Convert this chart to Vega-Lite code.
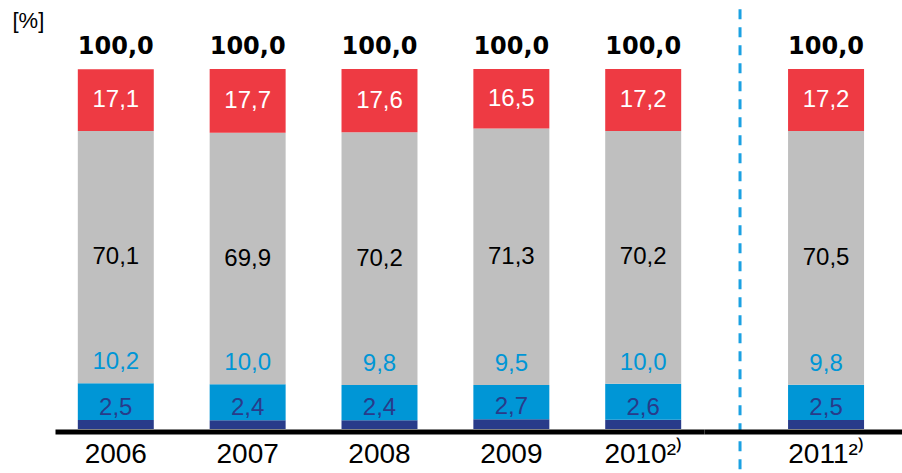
{
  "$schema": "https://vega.github.io/schema/vega-lite/v6.json",
  "padding": {"left": 12, "top": 7, "right": 0, "bottom": 0},
  "autosize": {"type": "pad"},
  "spacing": 0,
  "align": "each",
  "bounds": "flush",
  "config": {
    "view": {"stroke": null},
    "locale": {"number": {"decimal": ",", "thousands": ".", "grouping": [3], "currency": ["", " €"]}},
    "axis": {"grid": false}
  },
  "datasets": {
    "segments": [
      {"year": "2006", "segment": "s1", "value": 2.5},
      {"year": "2006", "segment": "s2", "value": 10.2},
      {"year": "2006", "segment": "s3", "value": 70.1},
      {"year": "2006", "segment": "s4", "value": 17.1},
      {"year": "2007", "segment": "s1", "value": 2.4},
      {"year": "2007", "segment": "s2", "value": 10.0},
      {"year": "2007", "segment": "s3", "value": 69.9},
      {"year": "2007", "segment": "s4", "value": 17.7},
      {"year": "2008", "segment": "s1", "value": 2.4},
      {"year": "2008", "segment": "s2", "value": 9.8},
      {"year": "2008", "segment": "s3", "value": 70.2},
      {"year": "2008", "segment": "s4", "value": 17.6},
      {"year": "2009", "segment": "s1", "value": 2.7},
      {"year": "2009", "segment": "s2", "value": 9.5},
      {"year": "2009", "segment": "s3", "value": 71.3},
      {"year": "2009", "segment": "s4", "value": 16.5},
      {"year": "2010", "segment": "s1", "value": 2.6},
      {"year": "2010", "segment": "s2", "value": 10.0},
      {"year": "2010", "segment": "s3", "value": 70.2},
      {"year": "2010", "segment": "s4", "value": 17.2},
      {"year": "2011", "segment": "s1", "value": 2.5},
      {"year": "2011", "segment": "s2", "value": 9.8},
      {"year": "2011", "segment": "s3", "value": 70.5},
      {"year": "2011", "segment": "s4", "value": 17.2}
    ],
    "totals": [
      {"year": "2006", "total": 100.0},
      {"year": "2007", "total": 100.0},
      {"year": "2008", "total": 100.0},
      {"year": "2009", "total": 100.0},
      {"year": "2010", "total": 100.0},
      {"year": "2011", "total": 100.0}
    ]
  },
  "hconcat": [
    {
      "width": 649,
      "height": 360,
      "layer": [
        {
          "data": {"name": "segments"},
          "transform": [{"filter": "datum.year != '2011'"}],
          "mark": {"type": "bar"},
          "encoding": {
            "x": {"field": "year", "type": "nominal", "scale": {"paddingInner": 0.4238, "paddingOuter": 0.173},
              "axis": {"title": null, "domainColor": "black", "domainWidth": 5, "ticks": false, "labelFont": "Liberation Sans", "labelFontSize": 28, "labelColor": "black", "labelPadding": 9, "offset": 2.5, "labelAngle": 0, "zindex": 1,
                "labelExpr": "datum.value == '2010' || datum.value == '2011' ? datum.value + '²⁾' : datum.value"}},
            "y": {"field": "value", "type": "quantitative", "stack": "zero", "scale": {"domain": [0, 100], "nice": false},
              "axis": {"title": "[%]", "domain": false, "ticks": false, "labels": false, "titleAngle": 0, "titleX": -43, "titleY": -59, "titleAlign": "left", "titleBaseline": "top", "titleFont": "Liberation Sans", "titleFontSize": 22, "titleFontWeight": "normal", "titleColor": "black"}},
            "color": {"field": "segment", "type": "nominal", "scale": {"domain": ["s1", "s2", "s3", "s4"], "range": ["#283B8A", "#0096D6", "#BFBFBF", "#EE3A43"]}, "legend": null},
            "order": {"field": "segment", "sort": "ascending"}
          }
        },
        {
          "data": {"name": "segments"},
          "transform": [{"filter": "datum.year != '2011'"}],
          "mark": {"type": "text", "font": "Liberation Sans", "fontSize": 24, "baseline": "middle"},
          "encoding": {
            "x": {"field": "year", "type": "nominal"},
            "y": {"field": "value", "type": "quantitative", "stack": "zero", "bandPosition": 0.5},
            "detail": {"field": "segment"},
            "order": {"field": "segment", "sort": "ascending"},
            "text": {"condition": {"test": "datum.segment == 's3' || datum.segment == 's4'", "field": "value", "type": "quantitative", "format": ".1f"}, "value": ""},
            "color": {"condition": {"test": "datum.segment == 's4'", "value": "white"}, "value": "black"}
          }
        },
        {
          "data": {"name": "segments"},
          "transform": [{"filter": "datum.year != '2011'"}],
          "mark": {"type": "text", "font": "Liberation Sans", "fontSize": 24, "baseline": "alphabetic", "dy": -14},
          "encoding": {
            "x": {"field": "year", "type": "nominal"},
            "y": {"field": "value", "type": "quantitative", "stack": "zero"},
            "detail": {"field": "segment"},
            "order": {"field": "segment", "sort": "ascending"},
            "text": {"condition": {"test": "datum.segment == 's2'", "field": "value", "type": "quantitative", "format": ".1f"}, "value": ""},
            "color": {"value": "#0096D6"}
          }
        },
        {
          "data": {"name": "segments"},
          "transform": [{"filter": "datum.year != '2011'"}],
          "mark": {"type": "text", "font": "Liberation Sans", "fontSize": 24, "baseline": "alphabetic", "dy": -5},
          "encoding": {
            "x": {"field": "year", "type": "nominal"},
            "y": {"field": "value", "type": "quantitative", "stack": "zero"},
            "detail": {"field": "segment"},
            "order": {"field": "segment", "sort": "ascending"},
            "text": {"condition": {"test": "datum.segment == 's1'", "field": "value", "type": "quantitative", "format": ".1f"}, "value": ""},
            "color": {"value": "#283B8A"}
          }
        },
        {
          "data": {"name": "totals"},
          "transform": [{"filter": "datum.year != '2011'"}],
          "mark": {"type": "text", "font": "DejaVu Sans", "fontWeight": "bold", "fontSize": 24, "baseline": "alphabetic", "dy": -15},
          "encoding": {
            "x": {"field": "year", "type": "nominal"},
            "y": {"field": "total", "type": "quantitative"},
            "text": {"field": "total", "type": "quantitative", "format": ".1f"},
            "color": {"value": "black"}
          }
        }
      ]
    },
    {
      "width": 198,
      "height": 360,
      "layer": [
        {
          "data": {"name": "segments"},
          "transform": [{"filter": "datum.year == '2011'"}],
          "mark": {"type": "bar"},
          "encoding": {
            "x": {"field": "year", "type": "nominal", "scale": {"paddingInner": 0, "paddingOuter": 0.8026, "align": 0.689},
              "axis": {"title": null, "domainColor": "black", "domainWidth": 5, "ticks": false, "labelFont": "Liberation Sans", "labelFontSize": 28, "labelColor": "black", "labelPadding": 9, "offset": 2.5, "labelAngle": 0, "zindex": 1,
                "labelExpr": "datum.value == '2010' || datum.value == '2011' ? datum.value + '²⁾' : datum.value"}},
            "y": {"field": "value", "type": "quantitative", "stack": "zero", "scale": {"domain": [0, 100], "nice": false}, "axis": null},
            "color": {"field": "segment", "type": "nominal", "scale": {"domain": ["s1", "s2", "s3", "s4"], "range": ["#283B8A", "#0096D6", "#BFBFBF", "#EE3A43"]}, "legend": null},
            "order": {"field": "segment", "sort": "ascending"}
          }
        },
        {
          "data": {"name": "segments"},
          "transform": [{"filter": "datum.year == '2011'"}],
          "mark": {"type": "text", "font": "Liberation Sans", "fontSize": 24, "baseline": "middle"},
          "encoding": {
            "x": {"field": "year", "type": "nominal"},
            "y": {"field": "value", "type": "quantitative", "stack": "zero", "bandPosition": 0.5, "axis": null},
            "detail": {"field": "segment"},
            "order": {"field": "segment", "sort": "ascending"},
            "text": {"condition": {"test": "datum.segment == 's3' || datum.segment == 's4'", "field": "value", "type": "quantitative", "format": ".1f"}, "value": ""},
            "color": {"condition": {"test": "datum.segment == 's4'", "value": "white"}, "value": "black"}
          }
        },
        {
          "data": {"name": "segments"},
          "transform": [{"filter": "datum.year == '2011'"}],
          "mark": {"type": "text", "font": "Liberation Sans", "fontSize": 24, "baseline": "alphabetic", "dy": -14},
          "encoding": {
            "x": {"field": "year", "type": "nominal"},
            "y": {"field": "value", "type": "quantitative", "stack": "zero", "axis": null},
            "detail": {"field": "segment"},
            "order": {"field": "segment", "sort": "ascending"},
            "text": {"condition": {"test": "datum.segment == 's2'", "field": "value", "type": "quantitative", "format": ".1f"}, "value": ""},
            "color": {"value": "#0096D6"}
          }
        },
        {
          "data": {"name": "segments"},
          "transform": [{"filter": "datum.year == '2011'"}],
          "mark": {"type": "text", "font": "Liberation Sans", "fontSize": 24, "baseline": "alphabetic", "dy": -5},
          "encoding": {
            "x": {"field": "year", "type": "nominal"},
            "y": {"field": "value", "type": "quantitative", "stack": "zero", "axis": null},
            "detail": {"field": "segment"},
            "order": {"field": "segment", "sort": "ascending"},
            "text": {"condition": {"test": "datum.segment == 's1'", "field": "value", "type": "quantitative", "format": ".1f"}, "value": ""},
            "color": {"value": "#283B8A"}
          }
        },
        {
          "data": {"name": "totals"},
          "transform": [{"filter": "datum.year == '2011'"}],
          "mark": {"type": "text", "font": "DejaVu Sans", "fontWeight": "bold", "fontSize": 24, "baseline": "alphabetic", "dy": -15},
          "encoding": {
            "x": {"field": "year", "type": "nominal"},
            "y": {"field": "total", "type": "quantitative", "axis": null},
            "text": {"field": "total", "type": "quantitative", "format": ".1f"},
            "color": {"value": "black"}
          }
        },
        {
          "data": {"name": "totals"},
          "transform": [{"filter": "datum.year == '2011'"}],
          "mark": {"type": "rule", "strokeDash": [10, 8], "strokeWidth": 3, "color": "#1BA1E2"},
          "encoding": {
            "x": {"datum": "2011", "bandPosition": -0.632},
            "y": {"datum": 116.6, "axis": null},
            "y2": {"datum": -12.5}
          }
        }
      ]
    }
  ]
}
